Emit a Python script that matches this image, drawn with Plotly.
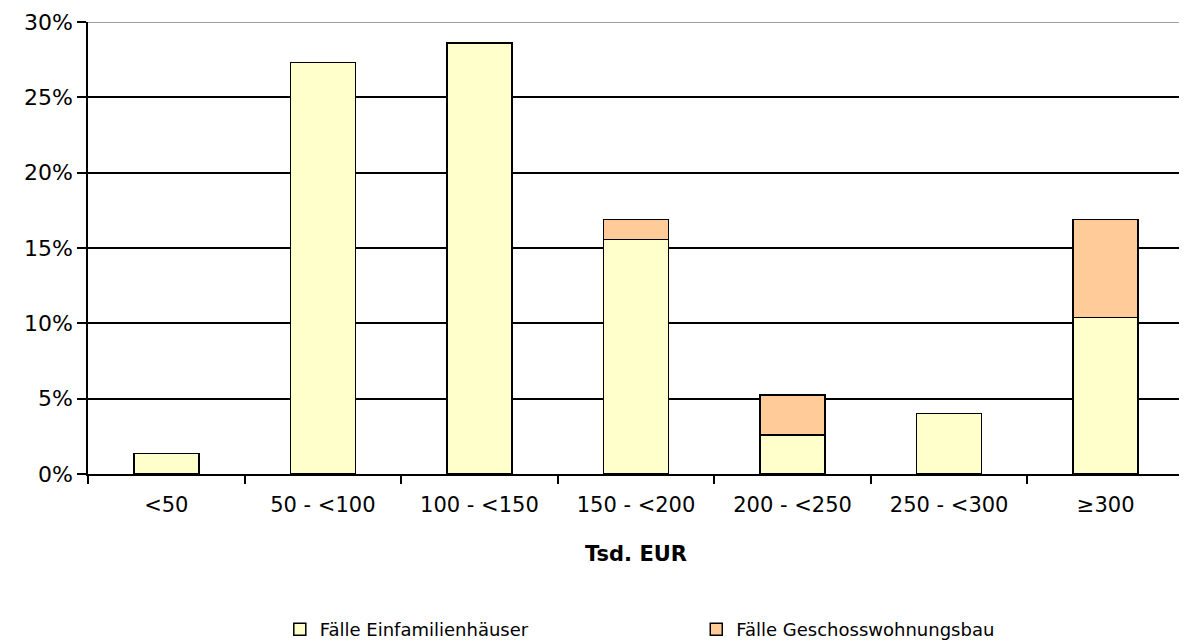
import plotly.graph_objects as go

categories = ["<50", "50 - <100", "100 - <150", "150 - <200", "200 - <250", "250 - <300", "≥300"]
einfamilien = [1.35, 27.3, 28.6, 15.55, 2.6, 4.0, 10.4]
geschoss = [None, None, None, 1.35, 2.65, None, 6.5]
y_ticks = [0, 5, 10, 15, 20, 25, 30]

FONT = "DejaVu Sans, Arial, sans-serif"

fig = go.Figure()
fig.add_trace(go.Bar(
    x=categories, y=einfamilien, name="Fälle Einfamilienhäuser",
    marker=dict(color="#FFFFCC", line=dict(color="black", width=1.5)),
    legend="legend",
))
fig.add_trace(go.Bar(
    x=categories, y=geschoss, name="Fälle Geschosswohnungsbau",
    marker=dict(color="#FFCC99", line=dict(color="black", width=1.5)),
    legend="legend2",
))

legend_common = dict(
    orientation="h", yanchor="middle", y=-0.344, xanchor="left",
    font=dict(size=18, family=FONT), bgcolor="rgba(0,0,0,0)",
)

fig.update_layout(
    barmode="stack",
    bargap=0.585,
    width=1179, height=633,
    paper_bgcolor="white", plot_bgcolor="white",
    margin=dict(l=80, r=3, t=13.5, b=166.7, autoexpand=False),
    font=dict(family=FONT, color="black"),
    showlegend=True,
    legend=dict(x=0.175, **legend_common),
    legend2=dict(x=0.555, **legend_common),
    xaxis=dict(
        title=dict(text="<b>Tsd. EUR</b>", font=dict(size=21, family=FONT), standoff=30),
        tickfont=dict(size=21, family=FONT),
        ticklabelstandoff=11,
        automargin=False,
        showline=True, linecolor="black", linewidth=1.5,
        ticks="outside", tickson="boundaries", ticklen=8, tickcolor="black", tickwidth=1.5,
        showgrid=False,
    ),
    yaxis=dict(
        range=[0, 30], tickvals=y_ticks, ticktext=[f"{v}%" for v in y_ticks],
        tickfont=dict(size=22, family=FONT),
        automargin=False,
        showline=True, linecolor="black", linewidth=1.5,
        ticks="outside", ticklen=9, tickcolor="black", tickwidth=1.5,
        showgrid=True, gridcolor="black", gridwidth=1.5,
        zeroline=False,
    ),
    shapes=[dict(
        type="line", xref="paper", x0=0, x1=1, yref="y", y0=y_ticks[-1], y1=y_ticks[-1],
        line=dict(color="#808080", width=1.5), layer="above",
    )],
)

fig.write_html("out.html")
